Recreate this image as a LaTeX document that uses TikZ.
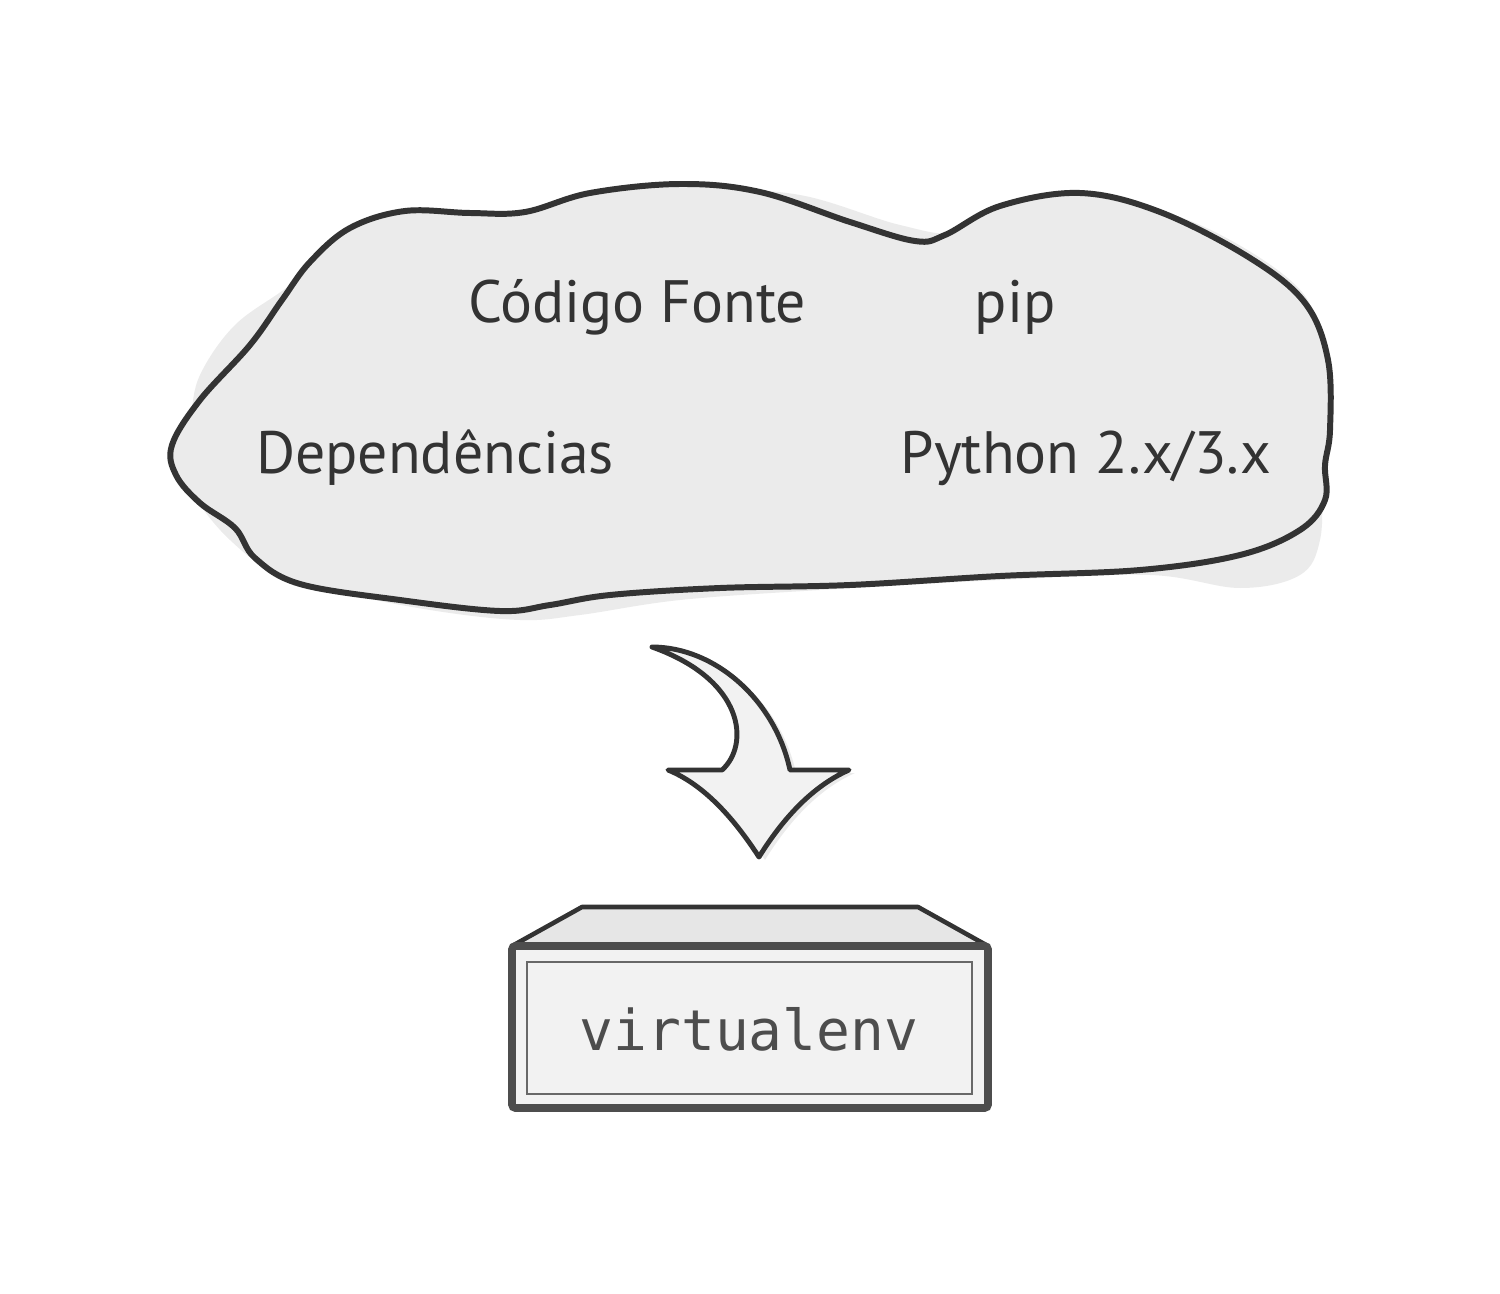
\documentclass[tikz,border=0pt]{standalone}
\usepackage{fontspec}
\newfontfamily\manofont{PT Sans}
\newfontfamily\codigofont{DejaVu Sans Mono}
\definecolor{trazo}{HTML}{333333}
\definecolor{nube}{HTML}{EBEBEB}
\definecolor{caja}{HTML}{F2F2F2}
\definecolor{tapa}{HTML}{E6E6E6}
\definecolor{gris}{HTML}{4D4D4D}
\begin{document}
\begin{tikzpicture}[x=0.01cm,y=-0.01cm,
    etiqueta/.style={anchor=base,text=trazo,font=\manofont\fontsize{17}{20}\selectfont},
    codigo/.style={anchor=base,text=gris,font=\codigofont\fontsize{16}{19}\selectfont}]

    \useasboundingbox (0,0) rectangle (1500,1294);

    % Sombra de la nube
    \fill[nube] plot[smooth cycle,tension=0.6] coordinates {(190,420) (200,375) (235,325) (290,285) (340,240) (410,225) (520,220) (600,200) (700,190) (800,195) (900,225) (960,232) (1030,200) (1100,196) (1200,225) (1290,280) (1318,330) (1322,420) (1322,480) (1320,540) (1300,575) (1240,588) (1150,575) (1000,580) (820,590) (680,600) (580,615) (520,620) (430,610) (330,590) (270,570) (230,540) (200,505) (180,470)};

    % Nube
    \filldraw[fill=nube,draw=trazo,line width=1.7pt] plot[smooth cycle,tension=0.6] coordinates {(172,445) (200,400) (250,345) (282,300) (310,262) (350,228) (405,211) (470,213) (525,212) (590,193) (680,184) (760,192) (850,222) (915,241) (945,235) (1000,206) (1080,193) (1160,212) (1250,258) (1305,303) (1328,360) (1330,430) (1325,465) (1325,500) (1300,530) (1240,555) (1140,570) (1000,576) (850,585) (720,588) (610,595) (550,605) (500,611) (400,600) (300,584) (255,558) (235,528) (200,503) (176,475)};

    % Etiquetas de la nube
    \node[etiqueta] (fonte) at (637,322) {Código Fonte};
    \node[etiqueta] (pip) at (1015,322) {pip};
    \node[etiqueta] (deps) at (435,473) {Dependências};
    \node[etiqueta] (python) at (1086,473) {Python 2.x/3.x};

    % Flecha curva
    \fill[nube,xshift=0.06cm,yshift=-0.03cm] (652,647) .. controls (715,647) and (775,700) .. (790,770) -- (849,770) .. controls (815,785) and (785,815) .. (759,857) .. controls (735,820) and (705,785) .. (668,770) -- (722,770) .. controls (750,745) and (745,680) .. (652,647) -- cycle;
    \filldraw[fill=caja,draw=trazo,line width=1.4pt,line join=round] (652,647) .. controls (715,647) and (775,700) .. (790,770) -- (849,770) .. controls (815,785) and (785,815) .. (759,857) .. controls (735,820) and (705,785) .. (668,770) -- (722,770) .. controls (750,745) and (745,680) .. (652,647) -- cycle;

    % Caja
    \filldraw[fill=tapa,draw=trazo,line width=1.3pt,line join=round] (512,946) -- (582,907) -- (918,907) -- (988,946) -- cycle;
    \filldraw[fill=caja,draw=gris,line width=2.2pt,rounded corners=1pt] (512,946) rectangle (988,1108);
    \draw[gris!85,line width=0.6pt] (527,962) rectangle (972,1094);
    \node[codigo] (venv) at (749,1050) {virtualenv};

\end{tikzpicture}
\end{document}
